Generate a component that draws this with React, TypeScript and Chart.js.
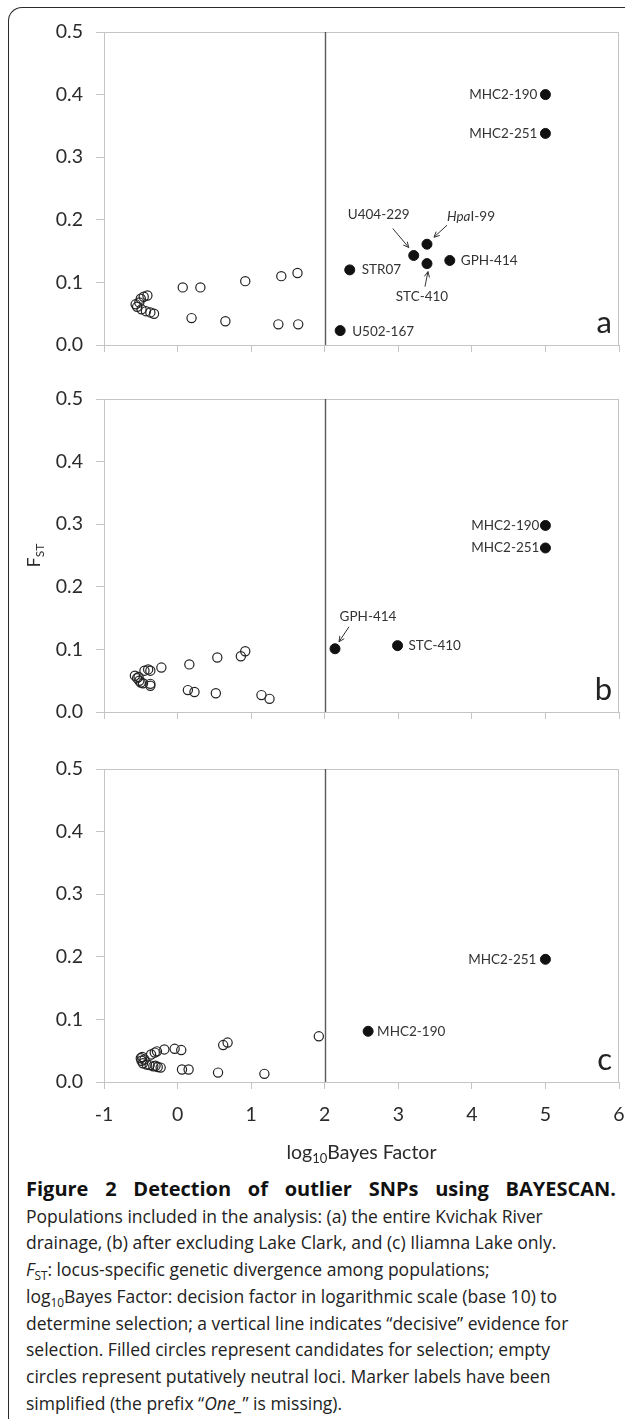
import React, { useEffect, useRef } from "react";
import { Chart, registerables } from "chart.js";

Chart.register(...registerables);

// ---------- data ----------
const xMin = -1;
const xMax = 6;
const yMin = 0;
const yMax = 0.5;
const threshold = 2;

// Panel a: entire Kvichak River drainage
const aNeutralX = [-0.57, -0.55, -0.52, -0.5, -0.46, -0.41, -0.49, -0.43, -0.37, -0.32, 0.07, 0.31, 0.92, 1.41, 1.63, 0.19, 0.65, 1.37, 1.64];
const aNeutralY = [0.065, 0.061, 0.068, 0.074, 0.077, 0.079, 0.057, 0.054, 0.052, 0.05, 0.092, 0.092, 0.102, 0.11, 0.115, 0.043, 0.038, 0.033, 0.033];
const aCandNames = ["MHC2-190", "MHC2-251", "HpaI-99", "U404-229", "STC-410", "GPH-414", "STR07", "U502-167"];
const aCandX = [5.0, 5.0, 3.39, 3.21, 3.39, 3.7, 2.34, 2.21];
const aCandY = [0.4, 0.338, 0.161, 0.143, 0.13, 0.135, 0.12, 0.023];

// Panel b: after excluding Lake Clark
const bNeutralX = [-0.58, -0.55, -0.53, -0.52, -0.5, -0.47, -0.45, -0.4, -0.37, -0.37, -0.37, -0.22, 0.16, 0.54, 0.86, 0.92, 0.14, 0.23, 0.52, 1.14, 1.25];
const bNeutralY = [0.058, 0.054, 0.056, 0.05, 0.047, 0.046, 0.066, 0.068, 0.066, 0.045, 0.042, 0.071, 0.076, 0.087, 0.089, 0.097, 0.035, 0.032, 0.03, 0.027, 0.021];
const bCandNames = ["MHC2-190", "MHC2-251", "GPH-414", "STC-410"];
const bCandX = [5.0, 5.0, 2.14, 2.99];
const bCandY = [0.298, 0.262, 0.101, 0.106];

// Panel c: Iliamna Lake only
const cNeutralX = [-0.5, -0.49, -0.48, -0.47, -0.45, -0.42, -0.38, -0.33, -0.3, -0.27, -0.23, -0.36, -0.31, -0.28, -0.18, -0.04, 0.05, 0.06, 0.15, 0.55, 0.62, 0.68, 1.18, 1.92];
const cNeutralY = [0.038, 0.034, 0.04, 0.03, 0.036, 0.028, 0.027, 0.025, 0.026, 0.024, 0.023, 0.044, 0.047, 0.049, 0.052, 0.053, 0.051, 0.02, 0.02, 0.015, 0.059, 0.063, 0.013, 0.073];
const cCandNames = ["MHC2-251", "MHC2-190"];
const cCandX = [5.0, 2.59];
const cCandY = [0.196, 0.081];

const panelLetters = ["a", "b", "c"];

// ---------- label layout (pixel offsets from each candidate point) ----------
type Note = { dx: number; dy: number; align: "left" | "right" | "center"; arrow?: [number, number, number, number] };
const aNotes: Note[] = [
  { dx: -8, dy: 0, align: "right" },
  { dx: -8, dy: 0, align: "right" },
  { dx: 44, dy: -28, align: "center", arrow: [20, -19, 7, -7] },
  { dx: -35, dy: -41, align: "center", arrow: [-21, -27, -5, -8] },
  { dx: -5, dy: 33, align: "center", arrow: [-2, 23, 1, 8] },
  { dx: 11, dy: 0, align: "left" },
  { dx: 12, dy: 0, align: "left" },
  { dx: 12, dy: 1, align: "left" },
];
const bNotes: Note[] = [
  { dx: -6, dy: 0, align: "right" },
  { dx: -6, dy: 0, align: "right" },
  { dx: 33, dy: -32, align: "center", arrow: [14, -22, 4, -7] },
  { dx: 11, dy: 0, align: "left" },
];
const cNotes: Note[] = [
  { dx: -9, dy: 0, align: "right" },
  { dx: 9, dy: 0, align: "left" },
];

const FONT = "Lato, 'Open Sans', sans-serif";
const CAPTION_FONT = "'Open Sans', Lato, sans-serif";
const TEXT = "#2b2b2b";
const AXIS = "#c4c4c4";

function toPts(xs: number[], ys: number[]) {
  return xs.map((x, i) => ({ x, y: ys[i] }));
}

function labelParts(name: string): [string, boolean][] {
  if (name.startsWith("Hpa")) return [["Hpa", true], [name.slice(3), false]];
  return [[name, false]];
}

function drawLabel(ctx: CanvasRenderingContext2D, name: string, x: number, y: number, align: string) {
  const parts = labelParts(name);
  const fonts = parts.map(([, it]) => `${it ? "italic " : ""}13.5px ${FONT}`);
  let total = 0;
  const widths = parts.map(([t], i) => {
    ctx.font = fonts[i];
    const w = ctx.measureText(t).width;
    total += w;
    return w;
  });
  let sx = align === "left" ? x : align === "right" ? x - total : x - total / 2;
  ctx.textAlign = "left";
  ctx.textBaseline = "middle";
  ctx.fillStyle = "#333";
  parts.forEach(([t], i) => {
    ctx.font = fonts[i];
    ctx.fillText(t, sx, y);
    sx += widths[i];
  });
}

function drawArrow(ctx: CanvasRenderingContext2D, x1: number, y1: number, x2: number, y2: number) {
  ctx.save();
  ctx.strokeStyle = "#333";
  ctx.lineWidth = 1;
  ctx.beginPath();
  ctx.moveTo(x1, y1);
  ctx.lineTo(x2, y2);
  const ang = Math.atan2(y2 - y1, x2 - x1);
  const h = 6;
  ctx.moveTo(x2, y2);
  ctx.lineTo(x2 - h * Math.cos(ang - 0.45), y2 - h * Math.sin(ang - 0.45));
  ctx.moveTo(x2, y2);
  ctx.lineTo(x2 - h * Math.cos(ang + 0.45), y2 - h * Math.sin(ang + 0.45));
  ctx.stroke();
  ctx.restore();
}

type PanelProps = {
  top: number;
  height: number;
  plotTop: number;
  plotBottom: number;
  neutralX: number[];
  neutralY: number[];
  candX: number[];
  candY: number[];
  names: string[];
  notes: Note[];
  letter: string;
  showX: boolean;
  yTitle?: boolean;
  xTitle?: boolean;
};

function Panel(p: PanelProps) {
  const ref = useRef<HTMLCanvasElement | null>(null);
  useEffect(() => {
    const canvas = ref.current;
    if (!canvas) return;
    const decor = {
      id: "decor",
      beforeDatasetsDraw(chart: any) {
        const { ctx, chartArea: a, scales } = chart;
        ctx.save();
        ctx.strokeStyle = AXIS;
        ctx.lineWidth = 1;
        ctx.strokeRect(a.left + 0.5, a.top + 0.5, a.right - a.left - 1, a.bottom - a.top);
        const vx = Math.round(scales.x.getPixelForValue(threshold)) + 0.5;
        ctx.strokeStyle = "#5a5a5a";
        ctx.lineWidth = 1.4;
        ctx.beginPath();
        ctx.moveTo(vx, a.top);
        ctx.lineTo(vx, a.bottom);
        ctx.stroke();
        ctx.restore();
      },
      afterDatasetsDraw(chart: any) {
        const { ctx, chartArea: a, scales } = chart;
        ctx.save();
        p.names.forEach((name, i) => {
          const px = scales.x.getPixelForValue(p.candX[i]);
          const py = scales.y.getPixelForValue(p.candY[i]);
          const n = p.notes[i];
          drawLabel(ctx, name, px + n.dx, py + n.dy, n.align);
          if (n.arrow) drawArrow(ctx, px + n.arrow[0], py + n.arrow[1], px + n.arrow[2], py + n.arrow[3]);
        });
        // panel letter
        ctx.font = `31px ${FONT}`;
        ctx.fillStyle = "#222";
        ctx.textAlign = "right";
        ctx.textBaseline = "alphabetic";
        ctx.fillText(p.letter, a.right - 7, a.bottom - 12);
        // y title F_ST
        if (p.yTitle) {
          const cy = (a.top + a.bottom) / 2;
          ctx.save();
          ctx.translate(40, cy + 12);
          ctx.rotate(-Math.PI / 2);
          ctx.fillStyle = TEXT;
          ctx.textAlign = "left";
          ctx.font = `18px ${FONT}`;
          ctx.fillText("F", 0, 0);
          const w = ctx.measureText("F").width;
          ctx.font = `12px ${FONT}`;
          ctx.fillText("ST", w, 4);
          ctx.restore();
        }
        // x title log10 Bayes Factor
        if (p.xTitle) {
          const cx = (a.left + a.right) / 2;
          const ty = a.bottom + 77;
          const big = `19.5px ${FONT}`;
          const small = `13px ${FONT}`;
          ctx.textAlign = "left";
          ctx.textBaseline = "alphabetic";
          ctx.fillStyle = TEXT;
          ctx.font = big;
          const w1 = ctx.measureText("log").width;
          const w3 = ctx.measureText("Bayes Factor").width;
          ctx.font = small;
          const w2 = ctx.measureText("10").width;
          let sx = cx - (w1 + w2 + w3) / 2;
          ctx.font = big;
          ctx.fillText("log", sx, ty);
          sx += w1;
          ctx.font = small;
          ctx.fillText("10", sx, ty + 4);
          sx += w2;
          ctx.font = big;
          ctx.fillText("Bayes Factor", sx, ty);
        }
        ctx.restore();
      },
    };

    const chart = new Chart(canvas, {
      type: "scatter",
      data: {
        datasets: [
          {
            data: toPts(p.neutralX, p.neutralY),
            pointRadius: 4.6,
            pointBorderWidth: 1.2,
            pointBackgroundColor: "rgba(255,255,255,0)",
            pointBorderColor: "#222",
          },
          {
            data: toPts(p.candX, p.candY),
            pointRadius: 5,
            pointBorderWidth: 1,
            pointBackgroundColor: "#111",
            pointBorderColor: "#111",
          },
        ],
      },
      options: {
        animation: false,
        responsive: false,
        maintainAspectRatio: false,
        events: [],
        layout: { padding: { top: p.plotTop - p.top, right: 6, left: 0, bottom: 0 } },
        plugins: { legend: { display: false }, tooltip: { enabled: false } },
        scales: {
          x: {
            type: "linear",
            min: xMin,
            max: xMax,
            grid: { drawOnChartArea: false, drawTicks: true, tickLength: 7, color: AXIS },
            border: { display: true, color: AXIS },
            ticks: {
              display: p.showX,
              stepSize: 1,
              autoSkip: false,
              maxRotation: 0,
              padding: 14,
              color: TEXT,
              font: { family: FONT, size: 19.5 },
            },
            afterFit: (s: any) => {
              s.height = p.top + p.height - p.plotBottom;
              s.paddingLeft = 0;
              s.paddingRight = 0;
            },
          },
          y: {
            type: "linear",
            min: yMin,
            max: yMax,
            grid: { drawOnChartArea: false, drawTicks: true, tickLength: 8, color: AXIS },
            border: { display: true, color: AXIS },
            ticks: {
              stepSize: 0.1,
              padding: 13,
              color: TEXT,
              font: { family: FONT, size: 19.5 },
              callback: (v: any) => Number(v).toFixed(1),
            },
            afterFit: (s: any) => {
              s.width = 104;
            },
          },
        },
      },
      plugins: [decor],
    } as any);
    return () => chart.destroy();
  }, []);
  return (
    <canvas
      ref={ref}
      width={625}
      height={p.height}
      style={{ position: "absolute", left: 0, top: p.top, width: 625, height: p.height, display: "block" }}
    />
  );
}

const subStyle: React.CSSProperties = { fontSize: "0.68em", verticalAlign: "-0.3em", lineHeight: 0 };

const captionLines: React.ReactNode[] = [
  <>Populations included in the analysis: (a) the entire Kvichak River</>,
  <>drainage, (b) after excluding Lake Clark, and (c) Iliamna Lake only.</>,
  <>
    <i>F</i>
    <sub style={subStyle}>ST</sub>: locus-specific genetic divergence among populations;
  </>,
  <>
    log<sub style={subStyle}>10</sub>Bayes Factor: decision factor in logarithmic scale (base 10) to
  </>,
  <>determine selection; a vertical line indicates “decisive” evidence for</>,
  <>selection. Filled circles represent candidates for selection; empty</>,
  <>circles represent putatively neutral loci. Marker labels have been</>,
  <>
    simplified (the prefix “<i>One_</i>” is missing).
  </>,
];
const CAPTION_LEFT = 26;

export default function App() {
  return (
    <div
      style={{
        position: "absolute",
        left: 0,
        top: 0,
        width: 625,
        height: 1419,
        overflow: "hidden",
        background: "#fff",
        fontFamily: FONT,
      }}
    >
      <div
        style={{
          position: "absolute",
          left: 8,
          top: 7,
          width: 800,
          height: 1600,
          borderLeft: "1.5px solid #2a2a2a",
          borderTop: "1.5px solid #2a2a2a",
          borderTopLeftRadius: 14,
        }}
      />
      <Panel
        top={0}
        height={370}
        plotTop={32}
        plotBottom={345}
        neutralX={aNeutralX}
        neutralY={aNeutralY}
        candX={aCandX}
        candY={aCandY}
        names={aCandNames}
        notes={aNotes}
        letter={panelLetters[0]}
        showX={false}
      />
      <Panel
        top={370}
        height={370}
        plotTop={399}
        plotBottom={712}
        neutralX={bNeutralX}
        neutralY={bNeutralY}
        candX={bCandX}
        candY={bCandY}
        names={bCandNames}
        notes={bNotes}
        letter={panelLetters[1]}
        showX={false}
        yTitle
      />
      <Panel
        top={740}
        height={430}
        plotTop={769}
        plotBottom={1082}
        neutralX={cNeutralX}
        neutralY={cNeutralY}
        candX={cCandX}
        candY={cCandY}
        names={cCandNames}
        notes={cNotes}
        letter={panelLetters[2]}
        showX
        xTitle
      />
      <div
        style={{
          position: "absolute",
          left: CAPTION_LEFT,
          top: 1176,
          width: 590,
          color: "#222",
          fontFamily: CAPTION_FONT,
          fontSize: 17.5,
          lineHeight: "26.7px",
        }}
      >
        <div
          style={{
            fontWeight: 700,
            fontSize: 20,
            textAlign: "justify",
            textAlignLast: "justify",
            color: "#111",
            whiteSpace: "nowrap",
            width: 590,
          }}
        >
          Figure 2 Detection of outlier SNPs using BAYESCAN.
        </div>
        {captionLines.map((l, i) => (
          <div key={i} style={{ whiteSpace: "nowrap" }}>
            {l}
          </div>
        ))}
      </div>
    </div>
  );
}
